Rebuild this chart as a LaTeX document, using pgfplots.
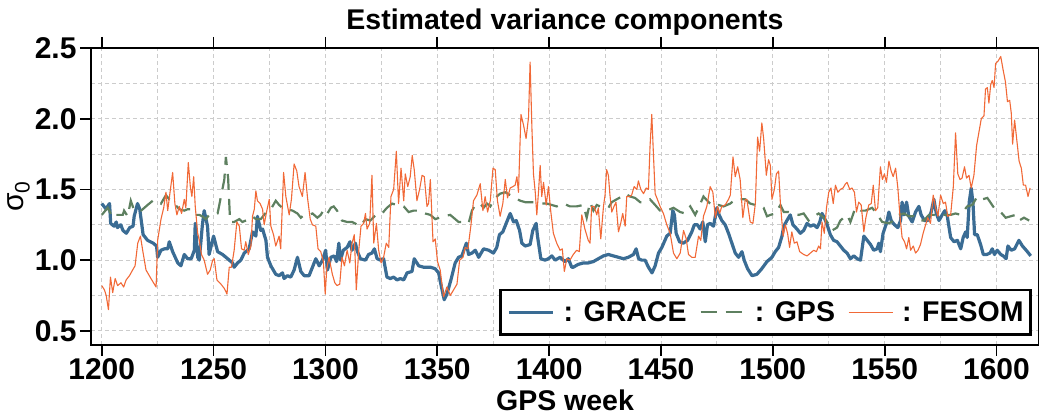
\documentclass[border=0pt]{standalone}
\usepackage{fontspec}
\setmainfont{Liberation Sans}
\usepackage{pgfplots}
\pgfplotsset{compat=1.18}
\definecolor{grace}{RGB}{58,108,148}
\definecolor{gps}{RGB}{94,128,96}
\definecolor{fesom}{RGB}{241,105,55}
\newcommand\lbl{\fontsize{28.5}{31}\selectfont\bfseries}
\newcommand\tlbl{\fontsize{30}{32}\selectfont\bfseries}
\begin{document}
\begin{tikzpicture}
\begin{axis}[
  scale only axis, width=948pt, height=297pt,
  xmin=1195.2, xmax=1619, ymin=0.4, ymax=2.5,
  axis line style={line width=2.2pt, black},
  xtick={1200,1250,1300,1350,1400,1450,1500,1550,1600},
  xticklabels={1200,1250,1300,1350,1400,1450,1500,1550,1600},
  minor xtick={1225,1275,1325,1375,1425,1475,1525,1575},
  ytick={0.5,1,1.5,2,2.5},
  yticklabels={0.5,1.0,1.5,2.0,2.5},
  minor ytick={0.75,1.25,1.75,2.25},
  xtick pos=both, ytick pos=left,
  tick align=outside, major tick length=11pt, minor tick length=0pt,
  major tick style={line width=1.8pt, black},
  ticklabel style={font=\tlbl},
  xticklabel style={yshift=1pt},
  grid=both,
  major grid style={gray!40, line width=0.9pt, dash pattern=on 4pt off 3pt},
  minor grid style={gray!40, line width=0.9pt, dash pattern=on 4pt off 3pt},
  title={Estimated variance components},
  title style={font=\lbl, at={(axis description cs:0.5,1)}, anchor=base, yshift=12pt},
  xlabel={GPS week},
  xlabel style={font=\lbl, at={(axis description cs:0.5,0)}, anchor=base, yshift=-66pt},
  ylabel={σ\textsubscript{0}},
  ylabel style={font=\fontsize{30}{32}\selectfont, yshift=-2pt},
  legend columns=3,
  legend image code/.code={\draw[#1] (0pt,0pt) -- (44pt,0pt);},
  legend style={at={(1,0)}, anchor=south east, xshift=-7.3pt, yshift=9.3pt,
    draw=black, line width=2.4pt, fill=white, inner xsep=7pt, inner ysep=11.5pt,
    nodes={inner sep=0pt}, font=\lbl,
    /tikz/every odd column/.append style={column sep=9pt},
    /tikz/every even column/.append style={column sep=13pt}},
]
\addplot[color=grace, line width=3.2pt, line join=round] coordinates {
(1200,1.40)(1201,1.38)(1202,1.36)(1203,1.39)(1203.5,1.40)(1204,1.26)(1205.5,1.24)(1206.5,1.27)(1207,1.23)(1208.5,1.25)(1209.5,1.21)(1211,1.19)(1212.5,1.23)(1214,1.24)(1214.5,1.31)(1216,1.40)(1217,1.36)(1218.5,1.18)(1220.5,1.14)(1223,1.12)(1224.5,1.10)(1225,1.02)(1226.5,1.07)(1228,1.08)(1229.5,1.08)(1230.2,1.13)(1231.7,1.06)(1234,0.98)(1235.4,0.96)(1236.9,1.04)(1238.4,1.01)(1240,1.01)(1241.4,1.07)(1241.8,1.26)(1242.9,1.02)(1243.6,1.00)(1245,1.25)(1245.8,1.35)(1247.3,1.24)(1248,1.04)(1250,1.17)(1251.8,1.06)(1254,1.04)(1256.3,1.01)(1258.5,0.98)(1259.2,0.95)(1260.7,0.98)(1262.2,1.00)(1263.7,1.05)(1265.9,1.08)(1267.4,1.20)(1268.9,1.17)(1269.6,1.31)(1271.1,1.21)(1271.9,1.22)(1273.4,1.14)(1274.1,1.02)(1275.6,0.96)(1277.8,0.90)(1279.3,0.89)(1280.8,0.91)(1281.5,0.87)(1283,0.89)(1284.5,0.88)(1286,0.93)(1287.5,1.02)(1289,0.92)(1290.5,0.89)(1292.7,0.89)(1294.2,0.95)(1295.7,1.01)(1297.2,0.96)(1298.7,1.00)(1300.1,1.07)(1300.9,0.93)(1302.4,1.02)(1303.9,1.03)
(1305,0.99)(1306,1.12)(1306.7,1.00)(1308,1.07)(1309.7,1.09)(1311,1.13)(1311.9,1.07)(1313.4,1.12)(1314.1,1.07)(1315.6,1.01)(1317.9,1.00)(1319.3,1.04)(1320.8,1.05)(1321.9,1.08)(1323.1,1.01)(1324.6,1.00)(1326,1.01)(1327.5,0.88)(1329,0.87)(1330.5,0.88)(1332,0.86)(1333.5,0.87)(1335,0.86)(1336.5,0.91)(1338.7,0.92)(1339.7,1.01)(1341.7,0.96)(1343.9,0.95)(1346.9,0.95)(1349,0.94)(1350.6,0.91)(1351.6,0.83)(1353.1,0.72)(1354.3,0.76)(1356.1,0.86)(1358,0.98)(1359.5,1.02)(1361,1.03)(1363,1.12)(1364,1.04)(1365.5,1.05)(1367,1.07)(1368.5,1.02)(1370.7,1.08)(1373,1.07)(1375.1,1.05)(1376.6,1.09)(1377.8,1.18)(1379.3,1.20)(1380.8,1.26)(1382.6,1.33)(1384.1,1.27)(1385.3,1.28)(1386.8,1.21)(1387.8,1.12)(1389.3,1.10)(1391.5,1.11)(1392.7,1.21)(1394.2,1.26)(1394.8,1.17)(1396.3,1.01)(1398.2,1.00)(1399.7,1.01)(1401.2,1.03)(1402.7,1.00)(1404.9,1.02)(1407.1,0.99)(1408.6,1.01)(1410.1,0.95)
(1410.8,0.95)(1413,0.97)(1415.3,0.98)(1417.5,0.98)(1419.8,0.99)(1422,1.01)(1424.3,1.03)(1426.5,1.04)(1428.7,1.03)(1431,1.02)(1433.2,1.01)(1435.4,1.02)(1437.7,1.04)(1438.9,1.08)(1440,1.01)(1441.4,1.00)(1442.9,1.00)(1444.4,0.95)(1446,0.91)(1447.4,0.96)(1448.9,1.05)(1450.4,1.09)(1452.6,1.17)(1454.1,1.19)(1455.3,1.35)(1456,1.32)(1456.8,1.19)(1458.3,1.13)(1460,1.12)(1461.9,1.14)(1463.8,1.20)(1464.9,1.25)(1466.3,1.25)(1467.5,1.22)(1468.7,1.27)(1469.8,1.13)(1470.8,1.25)(1472,1.26)(1473.5,1.24)(1475,1.37)(1476,1.32)(1477.2,1.28)(1478.7,1.25)(1480.2,1.19)(1481.7,1.12)(1483.2,1.05)(1484.7,1.02)(1486.2,1.06)(1487.2,1.00)(1488.7,0.94)(1490.7,0.89)(1492.9,0.90)(1495.1,0.94)(1497.4,0.99)(1499.6,1.02)(1501.1,1.06)(1502.6,1.09)(1504.1,1.17)(1504.9,1.24)(1506.3,1.28)(1507.8,1.32)(1509,1.25)(1510.8,1.22)
(1512.3,1.19)(1513.8,1.21)(1515.3,1.26)(1516.8,1.24)(1518.3,1.25)(1519.8,1.23)(1521,1.27)(1522,1.33)(1523,1.30)(1524.3,1.25)(1525.7,1.18)(1527.2,1.14)(1528.7,1.13)(1530.2,1.10)(1531.7,1.07)(1533.2,1.05)(1534.7,1.01)(1536.2,1.03)(1537.7,1.01)(1539.2,1.00)(1540.7,1.17)(1542.2,1.14)(1543.7,1.11)(1545.1,1.07)(1546.6,1.08)(1547.4,1.12)(1548.1,1.06)(1549.3,1.19)(1550.8,1.26)(1551.9,1.34)(1552.9,1.28)(1554.4,1.25)(1555.9,1.23)(1557.1,1.28)(1557.8,1.41)(1558.6,1.32)(1559.8,1.41)(1560.8,1.31)(1562.3,1.27)(1563.8,1.34)(1565.3,1.38)(1566.3,1.32)(1567.8,1.28)(1569.3,1.28)(1570.8,1.34)(1572,1.43)(1573.1,1.33)(1574.3,1.28)(1575.7,1.32)(1576.9,1.35)(1578,1.31)(1579.5,1.16)(1581,1.13)(1582.5,1.14)(1584,1.08)(1585.1,1.16)(1586.2,1.20)(1586.9,1.16)(1587.8,1.41)(1588.7,1.51)(1589.5,1.40)(1590.2,1.18)(1591.4,1.18)(1592.9,1.11)(1594.1,1.04)(1595.6,1.04)(1597.1,1.05)(1598.1,1.08)(1599.1,1.04)(1600.3,1.07)(1601.9,1.04)(1603,1.03)(1604.3,1.01)(1605.1,1.10)(1606.6,1.07)(1608.1,1.08)(1610,1.14)(1611.6,1.10)(1613.8,1.06)(1615.3,1.03)
};
\addlegendentry{: GRACE}
\addplot[color=gps, line width=2.2pt, dash pattern=on 16pt off 9pt] coordinates {
(1200,1.32)(1202.7,1.37)(1205,1.30)(1206.4,1.32)(1209.4,1.32)(1210,1.35)(1211.6,1.31)(1213,1.42)(1214.5,1.35)(1217.6,1.35)(1220.5,1.39)(1222.8,1.42)(1225,1.42)(1226.5,1.40)(1228.7,1.46)(1230.2,1.43)(1232.4,1.40)(1234.7,1.36)(1236.9,1.35)(1238.4,1.36)(1240.6,1.36)(1242,1.32)(1243.6,1.32)(1245,1.31)(1246.6,1.29)(1248,1.32)(1250.3,1.32)(1251.8,1.33)(1253.3,1.45)(1254.8,1.57)(1255.5,1.73)(1256.5,1.58)(1257.4,1.27)(1259.2,1.27)(1261.5,1.29)(1262.9,1.27)(1265.9,1.29)(1267.4,1.31)(1268.9,1.29)(1271.1,1.29)(1272.6,1.32)(1274.1,1.35)(1275.6,1.36)(1277.8,1.42)(1279.3,1.39)(1280.8,1.37)(1283,1.36)(1285.3,1.35)(1287.5,1.33)(1289,1.30)(1290.5,1.32)(1292.7,1.32)(1294.2,1.33)(1296.4,1.30)(1297.9,1.32)(1299.4,1.36)(1300.9,1.33)(1302.4,1.37)(1303.7,1.38)(1305.2,1.35)(1307.4,1.28)(1309.7,1.27)(1311.9,1.27)(1315.6,1.24)(1317.9,1.29)(1320.1,1.28)(1323.1,1.33)(1325.3,1.33)(1327.5,1.37)(1329.8,1.40)(1332,1.39)(1335,1.38)(1337.2,1.34)(1339.4,1.35)(1342.4,1.35)(1344.6,1.33)(1346.9,1.32)(1349.1,1.29)(1352.8,1.31)(1355.8,1.32)(1359.5,1.27)(1361.8,1.27)(1364,1.26)(1365.5,1.35)(1367,1.39)(1369.2,1.40)(1370.7,1.37)(1372.2,1.40)(1373.7,1.38)(1375.9,1.44)(1378.1,1.47)(1380.4,1.48)(1382.6,1.46)(1384.8,1.44)(1387.1,1.42)(1389.3,1.41)(1391.5,1.41)(1393.8,1.41)(1396,1.40)(1399,1.40)(1401.2,1.39)(1403.4,1.38)(1406.4,1.40)(1409.3,1.38)(1412.3,1.38)(1415.3,1.39)(1416.8,1.30)(1418.3,1.41)(1419.8,1.35)(1421.3,1.39)(1424.3,1.37)(1426.5,1.37)(1428,1.41)(1430.2,1.43)(1432.5,1.45)(1434,1.47)(1436.2,1.45)(1438.4,1.44)(1440.7,1.41)(1442.9,1.41)(1445.1,1.43)(1447.4,1.39)(1449.6,1.35)(1452.6,1.35)(1455.6,1.37)(1458.6,1.34)(1460.8,1.33)(1463.1,1.38)(1465.3,1.32)(1466.8,1.37)(1469,1.45)(1471.3,1.41)(1473.5,1.38)(1475.7,1.39)(1478,1.38)(1481,1.40)(1483.2,1.43)(1485.5,1.43)(1487.7,1.43)(1489.9,1.40)(1492.2,1.39)(1494.4,1.38)(1495.9,1.37)(1497.4,1.31)(1498.9,1.32)(1501.1,1.33)(1503.4,1.39)(1504.9,1.34)(1507.1,1.34)(1509.4,1.33)(1511.6,1.32)(1513.8,1.33)(1516,1.28)(1518.3,1.31)(1520.5,1.33)(1522.8,1.30)(1524.3,1.27)(1526.5,1.21)(1528.7,1.23)(1530.2,1.28)(1533.2,1.32)(1534.7,1.27)(1536.9,1.37)(1539.2,1.35)(1541.4,1.35)(1544.4,1.37)(1545.9,1.34)(1548.9,1.27)(1551.9,1.26)(1554.1,1.28)(1556.3,1.32)(1558.6,1.33)(1560.8,1.31)(1563,1.31)(1565.3,1.28)(1567.5,1.28)(1569.8,1.32)(1572,1.32)(1574.3,1.31)(1576.5,1.32)(1579.5,1.32)(1581.7,1.33)(1584,1.32)(1586.9,1.38)(1589.2,1.39)(1591.4,1.45)(1593.7,1.43)(1595.9,1.44)(1598.9,1.37)(1601.9,1.34)(1604.1,1.30)(1606.3,1.31)(1608.6,1.32)(1610.1,1.28)(1612.3,1.30)(1614.6,1.28)
};
\addlegendentry{: GPS}
\addplot[color=fesom, line width=1.1pt, line join=round] coordinates {
(1200,0.82)(1201.2,0.79)(1202,0.75)(1203,0.65)(1203.9,0.88)(1204.9,0.77)(1206,0.87)(1207.1,0.82)(1208.6,0.84)(1209.8,0.81)(1210.9,0.86)(1212.4,0.89)(1213.8,0.93)(1214.9,0.96)(1216.1,1.12)(1217.3,1.17)(1218.3,1.07)(1219.8,0.93)(1222,0.87)(1224.3,0.81)(1225,1.14)(1226.5,1.29)(1227.7,1.37)(1228.7,1.48)(1229.5,1.35)(1230.7,1.50)(1231.7,1.62)(1232.7,1.40)(1233.6,1.32)(1234.7,1.38)(1235.7,1.33)(1236.9,1.43)(1237.6,1.37)(1238.7,1.69)(1239.6,1.52)(1240.3,1.45)(1241.1,1.59)(1241.8,1.38)(1242.9,1.19)(1243.6,1.14)(1244.6,1.04)(1245.8,1.00)(1247.3,0.90)(1248.5,0.93)(1249.6,1.00)(1250.3,1.01)(1251.5,0.86)(1253.3,0.83)(1254.8,0.80)(1256,0.76)(1257,0.95)(1258,0.95)(1259.2,1.07)(1260.4,1.27)(1261.5,1.24)(1262.5,1.08)(1263.7,1.07)(1264.4,1.13)(1265.5,1.04)(1266.7,1.10)(1267.4,1.31)(1268.2,1.36)(1268.9,1.49)(1269.6,1.42)(1270.8,1.40)(1271.9,1.36)(1272.6,1.25)(1273.8,1.35)(1274.9,1.43)(1275.6,1.24)(1276.8,1.18)(1277.8,1.10)(1279.3,1.17)(1280,1.08)(1281.3,1.62)(1282.3,1.45)(1283.8,1.32)(1284.8,1.43)(1286,1.68)(1287.2,1.63)(1288.2,1.52)(1289.7,1.45)(1290.9,1.62)(1292,1.44)(1293.2,1.29)(1294.2,1.25)(1295.7,1.24)(1296.7,1.08)(1297.9,1.06)(1299.1,0.99)(1299.9,0.76)(1300.6,0.94)(1301.6,1.02)(1303.1,0.90)
(1304.2,0.84)(1305.2,0.82)(1306.4,0.83)(1307.4,1.02)(1308.5,0.96)(1309.7,1.07)(1310.9,0.98)(1311.9,1.12)(1312.9,1.18)(1313.8,0.79)(1314.9,1.07)(1315.9,1.24)(1317.1,1.26)(1317.9,1.33)(1318.6,1.22)(1319.8,1.26)(1320.8,1.60)(1321.6,1.12)(1322.8,1.26)(1323.8,1.07)(1324.9,0.98)(1326,1.02)(1327.2,1.12)(1328.3,1.09)(1329.3,1.45)(1330.5,1.50)(1331.7,1.77)(1332.7,1.40)(1333.8,1.65)(1335,1.42)(1335.7,1.61)(1336.8,1.52)(1337.9,1.59)(1338.8,1.74)(1339.7,1.64)(1340.9,1.42)(1342.1,1.50)(1343.2,1.60)(1344.2,1.59)(1345.4,1.38)(1346.1,1.40)(1346.9,1.57)(1348.1,1.13)(1349.1,1.15)(1350.1,0.99)(1351.3,0.93)(1352.8,0.74)(1354.3,0.81)(1355.8,0.75)(1357.3,0.79)(1358.8,0.83)(1360,1.00)(1361.5,1.02)(1362.5,1.09)(1363.7,1.08)(1365,1.24)(1366.2,1.42)(1367.7,1.46)(1369.2,1.54)(1370.4,1.35)(1371.4,1.45)(1372.5,1.34)(1373.7,1.42)(1374.9,1.65)(1375.9,1.64)(1376.9,1.42)(1378.1,1.31)(1379.3,1.40)(1380.4,1.57)(1381.4,1.44)(1382.6,1.51)(1383.8,1.52)(1384.8,1.53)(1385.6,1.59)(1386.3,1.48)(1387.4,2.03)(1388.5,1.96)(1389.7,1.86)(1390.8,2.01)(1391.5,2.40)(1392.3,1.94)(1393,1.61)(1393.8,1.48)(1394.5,1.32)(1395.2,1.47)(1396,1.67)(1396.7,1.45)(1397.5,1.55)(1398.7,1.39)(1399.7,1.52)(1400.7,1.35)(1401.9,1.19)(1403.4,1.12)(1404.9,1.07)(1405.9,1.08)(1406.8,0.92)(1407.9,1.01)
(1409.3,1.00)(1410.8,1.04)(1412.3,1.07)(1413.5,1.06)(1414.6,1.32)(1416,1.22)(1417.5,1.14)(1418.3,1.12)(1419,1.38)(1420.1,1.38)(1421.3,1.32)(1422,1.37)(1423.1,1.15)(1424.3,1.38)(1425,1.46)(1425.7,1.64)(1426.5,1.60)(1427.2,1.46)(1428,1.34)(1429,1.38)(1429.9,1.41)(1431,1.20)(1432,1.26)(1432.9,1.33)(1434,1.24)(1434.7,1.45)(1435.9,1.45)(1436.9,1.46)(1438,1.52)(1439.2,1.50)(1439.9,1.56)(1441,1.50)(1442.2,1.47)(1443.4,1.51)(1444.4,1.50)(1445.1,1.80)(1445.9,2.03)(1446.6,1.76)(1447.4,1.47)(1448.4,1.43)(1449.6,1.38)(1451.1,1.33)(1452.6,1.25)(1454.1,1.19)(1455.6,1.05)(1457.1,1.01)(1458.6,1.05)(1460.1,1.21)(1461.3,1.15)(1462.3,1.04)(1463.8,1.02)(1465.3,1.02)(1466.8,1.17)(1467.8,1.14)(1469,1.31)(1470.5,1.38)(1472,1.52)(1473.2,1.48)(1474.3,1.30)(1475.3,1.38)(1476.2,1.33)(1477.2,1.38)(1478.7,1.39)(1480.2,1.43)(1481,1.46)(1482.2,1.73)(1483.2,1.59)(1484.3,1.66)(1485.4,1.57)(1486.6,1.30)(1487.7,1.43)(1488.4,1.43)(1489.9,1.27)(1491.1,1.26)(1492.2,1.40)(1493.2,1.87)(1494.1,1.77)(1495.1,1.97)(1495.9,1.86)(1497.1,1.60)(1498.1,1.71)(1498.9,1.67)(1499.6,1.43)(1500.7,1.50)(1501.6,1.61)(1502.6,1.63)(1503.4,1.40)(1504.6,1.17)(1505.6,1.25)(1506.6,1.19)(1507.5,1.09)(1508.5,1.20)(1509.6,1.12)(1510.8,1.13)(1512,1.06)
(1513.8,1.04)(1515.3,1.03)(1516.8,1.05)(1518.3,1.07)(1519.5,1.06)(1520.5,1.10)(1521.3,1.08)(1522,1.27)(1523,1.19)(1524,1.37)(1525,1.48)(1526,1.51)(1527,1.40)(1528,1.53)(1529.1,1.48)(1530.2,1.50)(1531.4,1.51)(1532.5,1.54)(1533.2,1.55)(1534.4,1.50)(1535.4,1.51)(1536.5,1.48)(1537.4,1.34)(1538.4,1.41)(1539.5,1.39)(1540.7,1.20)(1541.6,1.30)(1542.9,1.39)(1544,1.40)(1544.9,1.53)(1545.9,1.35)(1546.9,1.37)(1548.1,1.66)(1549,1.57)(1549.9,1.61)(1550.8,1.55)(1551.9,1.70)(1552.9,1.63)(1553.8,1.59)(1554.9,1.65)(1555.9,1.51)(1556.8,1.32)(1557.8,1.16)(1558.9,1.13)(1559.8,1.08)(1560.8,1.16)(1561.6,1.07)(1562.8,1.10)(1563.8,1.05)(1564.9,1.07)(1566,1.11)(1567.2,1.19)(1568.3,1.25)(1569.3,1.30)(1570.5,1.26)(1571.7,1.46)(1572.8,1.37)(1573.8,1.31)(1575,1.46)(1576.2,1.40)(1577.2,1.41)(1578.2,1.31)(1579.5,1.32)(1580.7,1.52)(1581.7,1.90)(1582.7,1.61)(1583.7,1.57)(1584.6,1.58)(1585.7,1.66)(1586.6,1.58)(1587.7,1.60)(1588.7,1.51)(1589.9,1.60)(1591.1,1.81)(1592.2,1.91)(1593.2,2.00)(1594.4,2.02)(1595.1,2.21)(1595.9,2.22)(1596.6,2.11)(1597.4,2.24)(1598.1,2.27)(1598.9,2.22)(1599.6,2.39)(1600.8,2.41)(1601.9,2.44)(1602.9,2.35)(1604,2.26)(1604.9,2.12)(1605.9,2.13)(1606.6,2.04)(1607.2,1.82)(1608.1,1.99)(1609,1.86)(1610.1,1.70)(1611.1,1.65)(1612,1.53)(1613,1.53)(1614.1,1.45)(1615,1.51)
};
\addlegendentry{: FESOM}
\end{axis}
\pgfresetboundingbox
\useasboundingbox ([xshift=-91pt,yshift=-72pt]current axis.south west) rectangle ([yshift=48pt]current axis.north east);
\end{tikzpicture}
\end{document}
